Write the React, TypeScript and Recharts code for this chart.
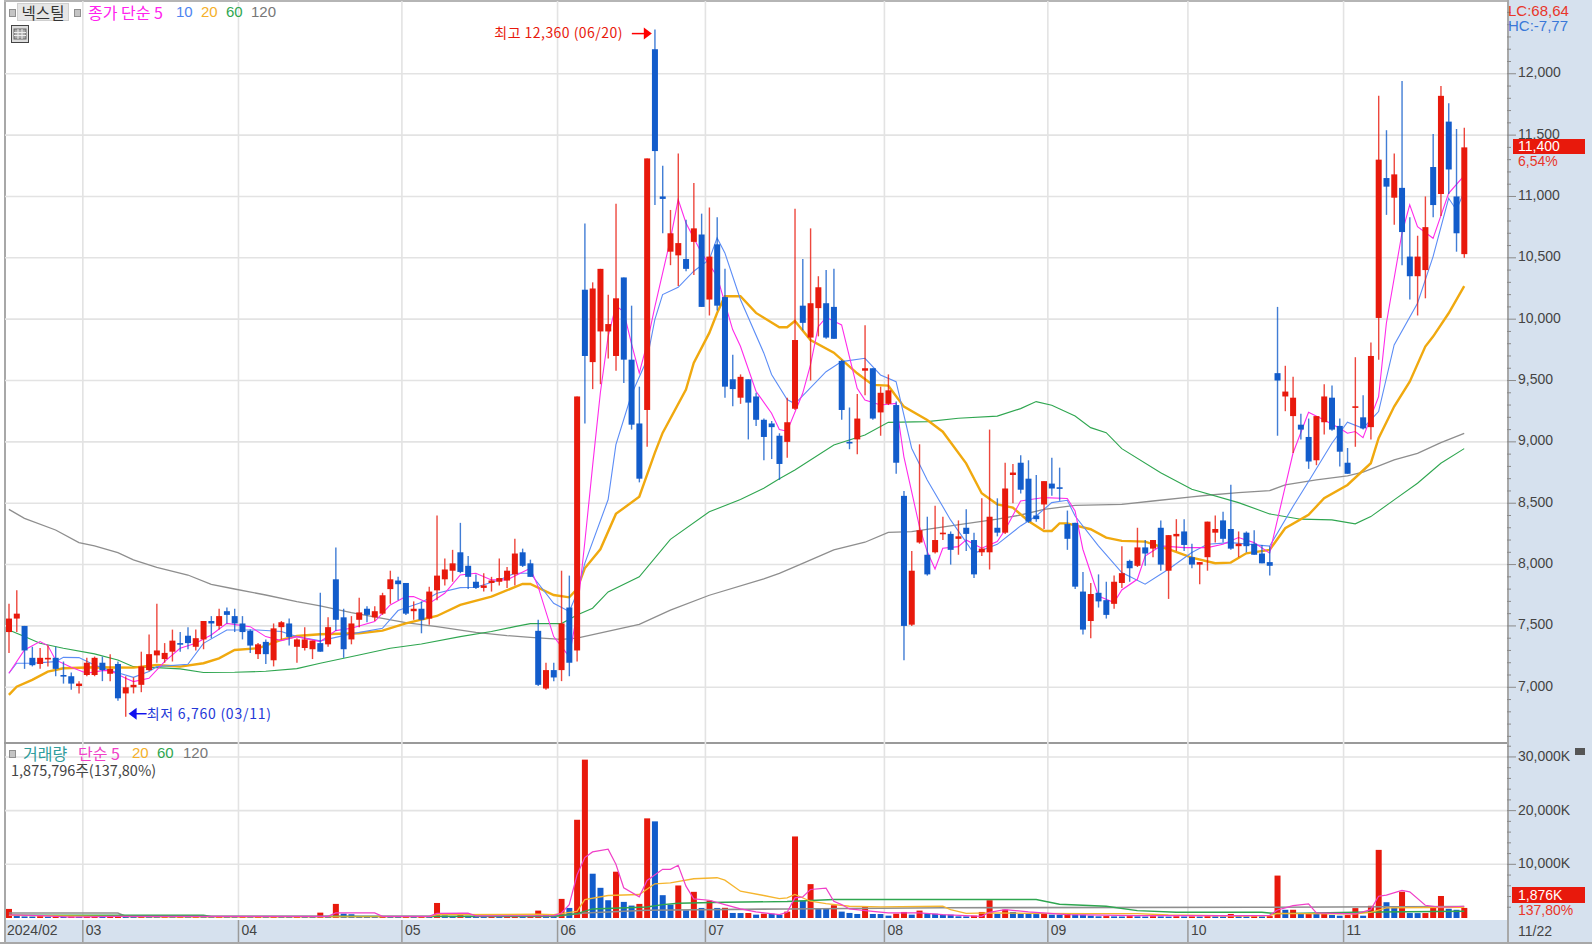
import React from "react";
import {
  Bar,
  CartesianGrid,
  ComposedChart,
  Line,
  ReferenceDot,
  ReferenceLine,
  XAxis,
  YAxis,
} from "recharts";

const opens = [
  7450, 7560, 7500, 7240, 7190, 7230, 7240, 7100, 7090, 7010,
  7100, 7100, 7200, 7110, 7190, 6950, 7000, 7020, 7140, 7260,
  7230, 7290, 7360, 7420, 7330, 7390, 7540, 7500, 7620, 7580,
  7520, 7460, 7270, 7370, 7220, 7490, 7520, 7330, 7320, 7310,
  7360, 7350, 7880, 7570, 7390, 7550, 7640, 7570, 7600, 7800,
  7870, 7850, 7620, 7640, 7560, 7790, 7880, 7950, 8100, 7990,
  7860, 7810, 7850, 7860, 7870, 7920, 8100, 8010, 7460, 6990,
  7140, 7140, 7650, 7300, 10240, 9650, 9900, 9900, 9700, 10340,
  9670, 9150, 9260, 12200, 11000, 10550, 10520, 10490, 10630, 10690,
  10160, 10610, 10180, 9510, 9360, 9510, 9370, 9180, 9150, 9050,
  9000, 9270, 10110, 9850, 10090, 10130, 10100, 9660, 9000, 9020,
  9580, 9600, 9240, 9310, 9300, 8560, 7510, 8180, 8080, 8100,
  8250, 8250, 8210, 8300, 8200, 8100, 8100, 8300, 8260, 8730,
  8830, 8700, 8400, 8490, 8660, 8630, 8330, 8340, 7780, 7540,
  7770, 7710, 7680, 7850, 8030, 7990, 8140, 8130, 8300, 7950,
  8230, 8270, 8060, 8000, 8060, 8260, 8360, 8290, 8150, 8260,
  8170, 8090, 8020, 9560, 9370, 9210, 9140, 9040, 8850, 9160,
  9360, 9130, 8830, 9280, 9200, 9120, 10010, 11150, 10990, 11070,
  10510, 10350, 10400, 11240, 11020, 11610, 11000, 10530,
];
const highs = [
  7680, 7790, 7500, 7330, 7320, 7340, 7330, 7210, 7120, 7050,
  7240, 7250, 7250, 7270, 7210, 7090, 7080, 7290, 7430, 7680,
  7360, 7470, 7450, 7490, 7470, 7540, 7580, 7640, 7650, 7640,
  7580, 7470, 7360, 7390, 7520, 7540, 7560, 7400, 7490, 7380,
  7770, 7570, 8140, 7640, 7580, 7730, 7660, 7660, 7770, 7950,
  7900, 7850, 7700, 7700, 7820, 8400, 8050, 8120, 8340, 8070,
  7920, 7930, 7900, 8050, 7980, 8210, 8130, 8040, 7550, 7200,
  7200, 7950, 7910, 9370, 10780, 10300, 10410, 10200, 10940, 10340,
  10110, 9450, 11310, 12360, 11250, 10890, 11350, 10810, 11110, 10860,
  10910, 10830, 10410, 9710, 9550, 9510, 9400, 9190, 9170, 9070,
  9360, 10900, 10490, 10740, 10350, 10400, 10410, 9670, 9280, 9390,
  9950, 9600, 9450, 9550, 9330, 8600, 8110, 8980, 8390, 8480,
  8390, 8270, 8360, 8450, 8260, 8540, 9100, 8540, 8830, 8820,
  8890, 8850, 8730, 8680, 8870, 8790, 8440, 8340, 7940, 7850,
  7920, 7860, 7910, 8150, 8040, 8300, 8200, 8200, 8360, 8240,
  8370, 8370, 8170, 8020, 8350, 8400, 8430, 8650, 8270, 8270,
  8280, 8160, 8150, 10100, 9620, 9530, 9230, 9190, 9210, 9470,
  9460, 9190, 8950, 9690, 9380, 9810, 11820, 11540, 11350, 11940,
  10830, 10680, 11000, 11510, 11900, 11760, 11550, 11560,
];
const lows = [
  7280, 7450, 7150, 7170, 7150, 7170, 7090, 7030, 6980, 6950,
  7090, 7090, 7050, 7050, 6890, 6760, 6950, 6960, 7130, 7200,
  7200, 7210, 7290, 7310, 7300, 7310, 7400, 7470, 7520, 7450,
  7390, 7280, 7230, 7190, 7170, 7390, 7340, 7200, 7300, 7230,
  7290, 7330, 7460, 7240, 7350, 7490, 7530, 7540, 7590, 7680,
  7710, 7590, 7550, 7440, 7510, 7710, 7830, 7860, 7930, 7800,
  7800, 7780, 7780, 7830, 7810, 7830, 7980, 7900, 7010, 6980,
  7050, 7050, 7090, 7210, 9150, 9430, 9470, 9680, 9580, 9480,
  9100, 8670, 8960, 10930, 10700, 10440, 10270, 10390, 10360, 10100,
  10030, 10070, 9360, 9290, 9310, 9020, 9130, 8850, 8860, 8690,
  8870, 9260, 9910, 9500, 9860, 9840, 9840, 9180, 8940, 8900,
  9380, 9180, 9050, 9300, 8740, 7220, 7500, 8170, 7910, 8090,
  8200, 8000, 8080, 8110, 7890, 8070, 7960, 8230, 8250, 8500,
  8580, 8340, 8350, 8290, 8560, 8520, 8120, 7800, 7430, 7400,
  7650, 7560, 7640, 7810, 7860, 7980, 7990, 8060, 7950, 7720,
  8110, 8110, 7970, 7840, 7950, 8180, 8180, 8120, 8060, 8100,
  8080, 8010, 7910, 9050, 9250, 8910, 9020, 8780, 8810, 9060,
  9090, 8800, 8740, 8960, 9100, 9020, 9670, 10850, 10770, 10440,
  10160, 10030, 10170, 10830, 10840, 11020, 10550, 10500,
];
const closes = [
  7560, 7600, 7300, 7180, 7240, 7240, 7150, 7090, 7030, 7030,
  7200, 7240, 7140, 7150, 6910, 7000, 7020, 7170, 7270, 7300,
  7280, 7380, 7350, 7360, 7400, 7540, 7520, 7580, 7590, 7520,
  7450, 7340, 7350, 7270, 7480, 7530, 7410, 7390, 7390, 7380,
  7290, 7490, 7550, 7310, 7520, 7610, 7590, 7620, 7750, 7880,
  7840, 7600, 7640, 7550, 7780, 7910, 7960, 8010, 7940, 7900,
  7810, 7830, 7870, 7890, 7950, 8090, 7990, 7900, 7020, 7140,
  7080, 7520, 7200, 9370, 9700, 10250, 10410, 9960, 10170, 9670,
  9140, 8700, 11310, 11370, 10980, 10700, 10620, 10410, 10740, 10100,
  10510, 10110, 9450, 9430, 9530, 9320, 9180, 9040, 9120, 8820,
  9160, 9830, 9970, 10130, 10260, 9850, 9840, 9260, 8990, 9190,
  9600, 9190, 9400, 9420, 8830, 7500, 7950, 8280, 7920, 8200,
  8260, 8120, 8230, 8250, 7920, 8130, 8390, 8260, 8620, 8750,
  8610, 8350, 8370, 8680, 8620, 8620, 8210, 7820, 7470, 7760,
  7700, 7590, 7860, 7930, 7970, 8140, 8090, 8200, 8000, 8240,
  8250, 8160, 8000, 8020, 8350, 8290, 8210, 8130, 8170, 8150,
  8080, 8010, 7990, 9500, 9410, 9360, 9100, 8840, 9210, 9370,
  9100, 8920, 8740, 9290, 9110, 9700, 11300, 11080, 11180, 10710,
  10350, 10510, 10750, 10930, 11820, 11220, 10700, 11400,
];
// thousand shares
const volumes = [
  1690, 500, 300, 280, 350, 250, 270, 240, 300, 240,
  280, 330, 250, 320, 450, 400, 300, 380, 320, 260,
  300, 260, 310, 280, 330, 300, 270, 320, 290, 250,
  280, 240, 300, 260, 320, 280, 250, 300, 270, 240,
  1000, 400, 2625, 810, 700, 350, 300, 260, 320, 280,
  240, 300, 260, 310, 280, 2800, 500, 300, 940, 420,
  300, 280, 320, 260, 300, 340, 280, 310, 1375, 625,
  440, 3560, 1875, 18300, 29500, 8250, 5625, 3310, 8625, 3000,
  2310, 2625, 18560, 18000, 4250, 2500, 6060, 1440, 4875, 1875,
  3250, 1875, 1900, 940, 920, 930, 625, 810, 800, 620,
  1190, 15190, 3250, 6310, 1690, 1680, 2375, 1190, 940, 750,
  2190, 750, 740, 440, 810, 1125, 625, 1375, 810, 800,
  625, 620, 310, 300, 440, 1125, 3310, 750, 1560, 1125,
  750, 740, 730, 810, 625, 620, 750, 625, 610, 440,
  310, 350, 300, 280, 340, 300, 270, 330, 290, 260,
  320, 280, 300, 270, 340, 300, 280, 750, 350, 300,
  320, 290, 350, 7900, 1530, 1530, 800, 810, 800, 810,
  550, 430, 550, 1840, 430, 2270, 12690, 2940, 1960, 4900,
  920, 910, 920, 1960, 4100, 1720, 1530, 1876,
];

// [candle index, value] read at the bends of each average
const ma5Points = [
  [0, 7114], [2, 7304], [4, 7372], [5, 7340], [6, 7223], [8, 7163], [10, 7114], [12, 7136], [13, 7136], [15, 7073],
  [16, 7046], [18, 7073], [20, 7209], [22, 7318], [24, 7358], [26, 7426], [28, 7521], [31, 7494], [33, 7413], [35, 7380],
  [37, 7413], [40, 7372], [42, 7462], [44, 7481], [47, 7535], [49, 7671], [51, 7739], [52, 7739], [54, 7684], [56, 7766],
  [58, 7915], [60, 7929], [62, 7875], [64, 7875], [67, 7970], [68, 7820], [70, 7413], [72, 7250], [73, 7600], [74, 8180],
  [75, 8800], [76, 9400], [77, 9860], [78, 10110], [79, 10060], [80, 9800], [81, 9560], [82, 9800], [83, 10100], [85, 10650],
  [86, 10975], [87, 10784], [89, 10540], [91, 10350], [93, 9915], [94, 9779], [96, 9413], [98, 9233], [99, 9100], [100, 9087],
  [102, 9396], [103, 9627], [104, 9939], [105, 10015], [107, 9953], [108, 9694], [109, 9436], [110, 9341], [112, 9301], [114, 9314],
  [115, 8880], [117, 8309], [118, 8106], [119, 7964], [120, 8133], [122, 8146], [123, 8201], [125, 8133], [127, 8187], [128, 8282],
  [130, 8518], [133, 8546], [136, 8538], [137, 8437], [138, 8125], [140, 7744], [142, 7690], [143, 7793], [145, 7880], [146, 8070],
  [148, 8152], [151, 8138], [154, 8138], [156, 8165], [158, 8220], [160, 8179], [162, 8093], [164, 8636], [165, 8907], [167, 9241],
  [169, 9179], [171, 9111], [172, 9070], [173, 9084], [174, 9035], [176, 9369], [177, 9967], [179, 10700], [180, 10931], [181, 10754],
  [183, 10659], [185, 11026], [187, 11170],
];
const ma10Points = [
  [0, 7114], [1, 7196], [3, 7196], [6, 7209], [7, 7244], [9, 7242], [11, 7182], [13, 7136], [16, 7081], [18, 7128],
  [19, 7168], [23, 7187], [25, 7358], [28, 7467], [32, 7467], [35, 7454], [37, 7413], [40, 7378], [44, 7435], [48, 7481],
  [50, 7625], [53, 7690], [55, 7766], [58, 7812], [60, 7815], [63, 7875], [65, 7929], [67, 7929], [70, 7684], [72, 7617],
  [73, 7766], [74, 8010], [77, 8530], [78, 8978], [80, 9386], [82, 9671], [83, 9997], [84, 10200], [86, 10260], [88, 10391],
  [90, 10486], [91, 10662], [92, 10540], [94, 10160], [97, 9725], [98, 9549], [100, 9345], [101, 9310], [105, 9572], [107, 9654],
  [110, 9681], [112, 9545], [114, 9491], [116, 8948], [118, 8690], [121, 8364], [124, 8092], [127, 8165], [130, 8315], [132, 8396],
  [134, 8505], [136, 8524], [137, 8396], [140, 8152], [143, 7935], [146, 7840], [149, 7962], [152, 8098], [154, 8165], [157, 8179],
  [162, 8150], [165, 8473], [167, 8677], [170, 8989], [172, 9160], [174, 9111], [176, 9247], [178, 9790], [181, 10130], [183, 10510],
  [185, 10985], [186, 10890], [187, 11040],
];
const ma20Points = [
  [0, 6938], [1, 7005], [3, 7060], [5, 7128], [7, 7155], [11, 7163], [16, 7160], [19, 7182], [22, 7168], [25, 7196],
  [27, 7236], [29, 7304], [32, 7318], [35, 7386], [37, 7418], [40, 7432], [45, 7440], [48, 7462], [51, 7521], [55, 7581],
  [58, 7671], [62, 7739], [66, 7842], [67, 7842], [70, 7752], [72, 7733], [73, 7800], [74, 7970], [76, 8124], [78, 8413],
  [81, 8553], [83, 8910], [84, 9073], [87, 9426], [88, 9644], [90, 9888], [91, 10050], [92, 10187], [94, 10187], [96, 10051],
  [99, 9934], [100, 9934], [101, 9985], [103, 9830], [106, 9727], [109, 9559], [111, 9464], [113, 9458], [115, 9287], [118, 9178],
  [120, 9083], [123, 8825], [125, 8581], [127, 8491], [129, 8464], [131, 8355], [133, 8274], [134, 8274], [135, 8336], [136, 8336],
  [139, 8288], [141, 8220], [143, 8193], [146, 8187], [149, 8125], [152, 8057], [155, 8011], [157, 8016], [159, 8092], [162, 8120],
  [164, 8296], [167, 8405], [169, 8541], [172, 8649], [175, 8826], [176, 9030], [178, 9288], [180, 9491], [182, 9777], [183, 9858],
  [185, 10048], [187, 10270],
];
const ma60Points = [
  [0, 7467], [2, 7413], [4, 7358], [7, 7318], [11, 7272], [14, 7223], [16, 7168], [19, 7160], [22, 7150], [25, 7120],
  [29, 7122], [33, 7130], [37, 7152], [40, 7196], [45, 7263], [49, 7318], [53, 7353], [58, 7413], [62, 7454], [65, 7494],
  [67, 7519], [71, 7519], [73, 7589], [75, 7644], [77, 7777], [81, 7900], [85, 8206], [90, 8430], [94, 8530], [97, 8622],
  [99, 8699], [101, 8771], [106, 8975], [110, 9056], [113, 9159], [118, 9165], [122, 9192], [127, 9210], [130, 9271], [132, 9328],
  [134, 9298], [137, 9211], [139, 9116], [141, 9075], [143, 8945], [148, 8749], [152, 8614], [158, 8505], [162, 8413], [166, 8370],
  [170, 8364], [173, 8332], [175, 8391], [178, 8527], [181, 8663], [184, 8826], [187, 8945],
];
const ma120Points = [
  [0, 8450], [2, 8377], [6, 8282], [9, 8179], [11, 8152], [14, 8097], [16, 8038], [19, 7978], [23, 7915], [26, 7839],
  [29, 7801], [33, 7752], [37, 7698], [40, 7663], [44, 7608], [48, 7562], [51, 7527], [55, 7494], [60, 7448], [64, 7421],
  [67, 7407], [71, 7391], [73, 7400], [81, 7512], [85, 7628], [90, 7750], [97, 7883], [99, 7929], [102, 8010], [106, 8119],
  [110, 8182], [113, 8263], [116, 8269], [121, 8315], [127, 8370], [130, 8404], [133, 8450], [137, 8483], [143, 8491], [147, 8518],
  [152, 8551], [154, 8565], [158, 8587], [162, 8603], [164, 8649], [168, 8690], [172, 8723], [174, 8753], [178, 8853], [181, 8907],
  [184, 8994], [187, 9070],
];
const vma5Points = [
  [0, 600], [4, 450], [8, 150], [14, 300], [30, 300], [41, 300], [42, 950], [47, 950], [48, 300], [54, 300],
  [55, 850], [59, 900], [60, 400], [70, 440], [71, 940], [72, 2500], [73, 8000], [74, 11250], [75, 12310], [77, 12810],
  [78, 10000], [79, 5625], [81, 3940], [82, 7000], [84, 9060], [85, 9060], [86, 9810], [87, 5940], [88, 3560], [90, 3310],
  [92, 2500], [94, 1690], [96, 1125], [99, 625], [100, 1060], [101, 3750], [102, 3940], [103, 5310], [105, 5560], [106, 3125],
  [107, 2500], [108, 1690], [111, 1250], [113, 940], [117, 940], [120, 625], [125, 310], [126, 1060], [128, 1560], [131, 1125],
  [136, 625], [145, 440], [157, 440], [162, 500], [163, 1500], [164, 1875], [165, 2310], [167, 2625], [168, 940], [173, 750],
  [175, 1560], [176, 4060], [177, 4250], [179, 5125], [180, 4875], [182, 2375], [184, 2000], [187, 2190],
];
const vma20Points = [
  [0, 500], [20, 200], [54, 250], [55, 640], [68, 700], [70, 625], [73, 1250], [74, 3440], [77, 4190], [81, 4375],
  [83, 6375], [85, 6560], [88, 7310], [91, 7500], [92, 7060], [94, 5000], [97, 4190], [99, 3625], [100, 3750], [101, 4375],
  [103, 3125], [105, 2690], [108, 2190], [112, 2060], [120, 2190], [121, 1560], [123, 875], [126, 940], [131, 875], [139, 810],
  [145, 810], [149, 560], [158, 375], [162, 440], [163, 875], [170, 750], [173, 750], [175, 1060], [177, 1875], [187, 2000],
];
const vma60Points = [
  [0, 500], [25, 500], [26, 310], [70, 310], [73, 810], [75, 1690], [82, 2060], [84, 2500], [86, 2750], [92, 2940],
  [100, 3060], [106, 3440], [132, 3440], [135, 2560], [141, 2190], [145, 1375], [150, 1060], [161, 1060], [163, 810], [173, 1060],
  [176, 1125], [187, 1250],
];
const vma120Points = [
  [0, 940], [14, 940], [15, 310], [70, 310], [74, 940], [82, 1440], [100, 1690], [120, 1900], [160, 2000], [187, 2130],
];

const monthStarts = [0, 10, 30, 51, 71, 90, 113, 134, 152, 172];
const monthLabels = ["2024/02", "03", "04", "05", "06", "07", "08", "09", "10", "11"];
const priceLabelTicks = [7000, 7500, 8000, 8500, 9000, 9500, 10000, 10500, 11000, 11500, 12000];
const volumeLabelTicks = [10000, 20000, 30000];

const SLOT_COUNT = 193; // 188 sessions plus the empty room at the right edge
const PLOT_RIGHT = 85;
const SLOT = 1502 / SLOT_COUNT;
const RED = "#E8190C";
const BLUE = "#125CCB";
const PINK = "#FF2BEA";
const MA_BLUE = "#5C8DF6";
const ORANGE = "#F0A90F";
const GREEN = "#2FA650";
const GRAY = "#8E8E8E";
const GRID = "#E3E3E3";
const PANEL = "#D6E1EE";
const LABEL_FONT = "'Liberation Sans', sans-serif";
const KR_FONT = "'Noto Sans CJK KR', sans-serif";

const lookup = (points: number[][]) => new Map(points.map(([i, v]) => [i, v]));
const ma5 = lookup(ma5Points);
const ma10 = lookup(ma10Points);
const ma20 = lookup(ma20Points);
const ma60 = lookup(ma60Points);
const ma120 = lookup(ma120Points);
const vma5 = lookup(vma5Points);
const vma20 = lookup(vma20Points);
const vma60 = lookup(vma60Points);
const vma120 = lookup(vma120Points);

const rows = Array.from({ length: SLOT_COUNT }, (_, i) => ({
  i,
  open: opens[i],
  high: highs[i],
  low: lows[i],
  close: closes[i],
  volume: volumes[i],
  volumeUp: i === 0 || volumes[i] >= volumes[i - 1],
  ma5: ma5.get(i) ?? null,
  ma10: ma10.get(i) ?? null,
  ma20: ma20.get(i) ?? null,
  ma60: ma60.get(i) ?? null,
  ma120: ma120.get(i) ?? null,
  vma5: vma5.get(i) ?? null,
  vma20: vma20.get(i) ?? null,
  vma60: vma60.get(i) ?? null,
  vma120: vma120.get(i) ?? null,
}));

const priceAxisTicks = Array.from({ length: 60 }, (_, k) => 6600 + k * 100);
const volumeAxisTicks = Array.from({ length: 16 }, (_, k) => 2000 + k * 2000);

function Candle(props: any) {
  const { x, y, width, height, payload } = props;
  if (payload.high == null) return null;
  const up = payload.close >= payload.open;
  const color = up ? RED : BLUE;
  const span = payload.high - payload.low;
  const toY = (v: number) => y + ((payload.high - v) / span) * Math.abs(height);
  const top = toY(Math.max(payload.open, payload.close));
  const bottom = toY(Math.min(payload.open, payload.close));
  const mid = x + width / 2;
  return (
    <g>
      <line x1={mid} x2={mid} y1={y} y2={y + Math.abs(height)} stroke={color} strokeOpacity={0.8} strokeWidth={1.4} />
      <rect x={x} y={top} width={width} height={Math.max(bottom - top, 1.6)} fill={color} />
    </g>
  );
}

function VolumeBar(props: any) {
  const { x, y, width, height, payload } = props;
  if (payload.volume == null) return null;
  return <rect x={x} y={y} width={width} height={height} fill={payload.volumeUp ? RED : BLUE} />;
}

function PriceTick(props: any) {
  const { y, payload } = props;
  const major = priceLabelTicks.includes(payload.value);
  const left = 1507;
  return (
    <g>
      <line x1={left} x2={left + (major ? 9 : 4)} y1={y} y2={y} stroke="#8a8a8a" strokeWidth={1} />
      {major && (
        <text x={left + 11} y={y + 3.5} fontFamily={LABEL_FONT} fontSize={14} fill="#444">
          {payload.value.toLocaleString("en-US")}
        </text>
      )}
    </g>
  );
}

function VolumeTick(props: any) {
  const { y, payload } = props;
  const major = volumeLabelTicks.includes(payload.value);
  const left = 1507;
  return (
    <g>
      <line x1={left} x2={left + (major ? 9 : 4)} y1={y} y2={y} stroke="#8a8a8a" strokeWidth={1} />
      {major && (
        <text x={left + 11} y={y + 4} fontFamily={LABEL_FONT} fontSize={14} fill="#444">
          {`${payload.value.toLocaleString("en-US")}K`}
        </text>
      )}
    </g>
  );
}

function DateTick(props: any) {
  const { x, payload } = props;
  const at = monthStarts.indexOf(payload.value);
  const left = x - SLOT / 2;
  return (
    <g>
      {at > 0 && <line x1={left} x2={left} y1={178} y2={200} stroke="#9a9a9a" strokeWidth={1.5} />}
      <text x={left + (at > 0 ? 3 : 2)} y={193} fontFamily={LABEL_FONT} fontSize={14} fill="#444">
        {monthLabels[at]}
      </text>
    </g>
  );
}

function MonthLine(props: any) {
  const { x1, x2, y1, y2 } = props;
  return <line x1={x1 - SLOT / 2} x2={x2 - SLOT / 2} y1={y1} y2={y2} stroke={GRID} strokeWidth={1.6} />;
}

function HighMark(props: any) {
  const { cx, cy } = props;
  return (
    <g>
      <text x={cx - 32} y={cy + 8} textAnchor="end" fontFamily={KR_FONT} fontSize={14} letterSpacing={0.45} fill={RED}>
        최고 12,360 (06/20)
      </text>
      <line x1={cx - 23} x2={cx - 10} y1={cy + 4} y2={cy + 4} stroke="#F00" strokeWidth={1.5} />
      <path d={`M${cx - 11} ${cy - 2} L${cx - 3} ${cy + 4} L${cx - 11} ${cy + 10} Z`} fill="#F00" />
    </g>
  );
}

function LowMark(props: any) {
  const { cx, cy } = props;
  return (
    <g>
      <path d={`M${cx + 3} ${cy - 3} L${cx + 11} ${cy - 9} L${cx + 11} ${cy + 3} Z`} fill="#1010EE" />
      <line x1={cx + 10} x2={cx + 21} y1={cy - 3} y2={cy - 3} stroke="#1010EE" strokeWidth={1.5} />
      <text x={cx + 21} y={cy + 2} fontFamily={KR_FONT} fontSize={14} letterSpacing={0.75} fill="#2338D8">
        최저 6,760 (03/11)
      </text>
    </g>
  );
}

function Label(props: { x: number; y: number; color: string; size?: number; children: React.ReactNode; font?: string }) {
  return (
    <div
      style={{
        position: "absolute",
        left: props.x,
        top: props.y,
        color: props.color,
        fontFamily: props.font ?? LABEL_FONT,
        fontSize: props.size ?? 14,
        lineHeight: "16px",
        whiteSpace: "nowrap",
      }}
    >
      {props.children}
    </div>
  );
}

function Square({ x, y }: { x: number; y: number }) {
  return (
    <div
      style={{ position: "absolute", left: x, top: y, width: 5, height: 6, background: "#c4c4c4", border: "1px solid #8f8f8f" }}
    />
  );
}

export default function App() {
  return (
    <div style={{ position: "fixed", left: 0, top: 0, width: 1592, height: 946, background: "#fff", overflow: "hidden" }}>
      {/* axis panel and date strip */}
      <div style={{ position: "absolute", left: 1507, top: 0, width: 85, height: 942, background: PANEL, borderLeft: "2px solid #a8a8a8", boxSizing: "border-box" }} />
      <div style={{ position: "absolute", left: 5, top: 920, width: 1502, height: 22, background: PANEL }} />
      <div style={{ position: "absolute", left: 0, top: 942, width: 1592, height: 1.5, background: "#a8a8a8" }} />
      <div style={{ position: "absolute", left: 4, top: 0, width: 1.5, height: 942, background: "#a8a8a8" }} />
      <div style={{ position: "absolute", left: 4, top: 0, width: 1503, height: 1.5, background: "#b5b5b5" }} />
      <div style={{ position: "absolute", left: 4, top: 742, width: 1503, height: 1.5, background: "#9a9a9a" }} />

      <div style={{ position: "absolute", left: 0, top: 0 }}>
        <ComposedChart
          width={1592}
          height={742}
          data={rows}
          margin={{ top: 1, right: 0, bottom: 0, left: 5 }}
          barCategoryGap={0}
        >
          <CartesianGrid stroke={GRID} strokeWidth={1.6} vertical={false} horizontalValues={priceLabelTicks} />
          <XAxis dataKey="i" type="category" hide />
          <YAxis
            orientation="right"
            width={PLOT_RIGHT}
            domain={[6554, 12593]}
            ticks={priceAxisTicks}
            interval={0}
            allowDataOverflow
            axisLine={false}
            tickLine={false}
            tick={<PriceTick />}
          />
          {monthStarts.slice(1).map((m) => (
            <ReferenceLine key={m} x={m} shape={<MonthLine />} />
          ))}
          <Line dataKey="ma120" stroke={GRAY} strokeWidth={1.3} dot={false} connectNulls isAnimationActive={false} />
          <Line dataKey="ma60" stroke={GREEN} strokeWidth={1.1} dot={false} connectNulls isAnimationActive={false} />
          <Line dataKey="ma20" stroke={ORANGE} strokeWidth={2.4} dot={false} connectNulls isAnimationActive={false} />
          <Line dataKey="ma10" stroke={MA_BLUE} strokeWidth={1.1} dot={false} connectNulls isAnimationActive={false} />
          <Line dataKey="ma5" stroke={PINK} strokeWidth={1.1} dot={false} connectNulls isAnimationActive={false} />
          <Bar
            dataKey={(d: any) => (d.high == null ? null : [d.low, d.high])}
            barSize={6}
            shape={<Candle />}
            isAnimationActive={false}
            {...({ zIndex: 500 } as any)}
          />
          <ReferenceDot x={83} y={12360} r={0} shape={<HighMark />} />
          <ReferenceDot x={15} y={6760} r={0} shape={<LowMark />} />
        </ComposedChart>
      </div>

      <div style={{ position: "absolute", left: 0, top: 742 }}>
        <ComposedChart
          width={1592}
          height={204}
          data={rows}
          margin={{ top: 0, right: 0, bottom: 0, left: 5 }}
          barCategoryGap={0}
        >
          <CartesianGrid stroke={GRID} strokeWidth={1.6} vertical={false} horizontalValues={volumeLabelTicks} />
          <XAxis
            dataKey="i"
            type="category"
            height={28}
            ticks={monthStarts}
            interval={0}
            axisLine={false}
            tickLine={false}
            tick={<DateTick />}
          />
          <YAxis
            orientation="right"
            width={PLOT_RIGHT}
            domain={[0, 32785]}
            ticks={volumeAxisTicks}
            interval={0}
            allowDataOverflow
            axisLine={false}
            tickLine={false}
            tick={<VolumeTick />}
          />
          {monthStarts.slice(1).map((m) => (
            <ReferenceLine key={m} x={m} shape={<MonthLine />} />
          ))}
          <Bar dataKey="volume" barSize={6} shape={<VolumeBar />} isAnimationActive={false} />
          <Line dataKey="vma120" stroke={GRAY} strokeWidth={1.6} dot={false} connectNulls isAnimationActive={false} />
          <Line dataKey="vma60" stroke={GREEN} strokeWidth={1.4} dot={false} connectNulls isAnimationActive={false} />
          <Line dataKey="vma20" stroke="#F5B52E" strokeWidth={1.3} dot={false} connectNulls isAnimationActive={false} />
          <Line dataKey="vma5" stroke="#F040C8" strokeWidth={1.2} dot={false} connectNulls isAnimationActive={false} />
        </ComposedChart>
      </div>

      {/* price panel legend */}
      <Square x={9} y={9} />
      <div style={{ position: "absolute", left: 17, top: 3, width: 52, height: 18, background: "#e6e6e6", border: "1px solid #cfcfcf", boxSizing: "border-box", textAlign: "center", fontFamily: KR_FONT, fontSize: 15.5, lineHeight: "16px", color: "#333" }}>
        넥스틸
      </div>
      <Square x={74} y={9} />
      <Label x={88} y={4} color="#FF22EE" font={KR_FONT} size={16}>종가 단순 5</Label>
      <Label x={176} y={4} color="#4D84F0" size={15}>10</Label>
      <Label x={201} y={4} color="#F5B02A" size={15}>20</Label>
      <Label x={226} y={4} color="#2FA650" size={15}>60</Label>
      <Label x={251} y={4} color="#777" size={15}>120</Label>
      <svg style={{ position: "absolute", left: 11, top: 25 }} width={18} height={18}>
        <rect x={0.5} y={0.5} width={17} height={17} fill="#ddd" stroke="#444" />
        <rect x={3} y={4} width={12} height={10} fill="#aaa" stroke="#666" />
        <path d="M7 4V14M11 4V14M3 7.5H15M3 10.5H15" stroke="#eee" />
      </svg>

      {/* volume panel legend */}
      <Square x={9} y={750} />
      <Label x={23} y={745} color="#2E9C9C" font={KR_FONT} size={16}>거래량</Label>
      <Label x={78} y={745} color="#F040C8" font={KR_FONT} size={16}>단순 5</Label>
      <Label x={132} y={745} color="#F5B02A" size={15}>20</Label>
      <Label x={157} y={745} color="#2FA650" size={15}>60</Label>
      <Label x={183} y={745} color="#777" size={15}>120</Label>
      <Label x={11} y={762} color="#444" font={KR_FONT} size={14.5}>1,875,796주(137,80%)</Label>
      <div style={{ position: "absolute", left: 1575, top: 748, width: 10, height: 7, background: "#555" }} />

      {/* right side read-outs */}
      <Label x={1508} y={3} color="#E8362A" size={15}>LC:68,64</Label>
      <Label x={1508} y={18} color="#3A78D8" size={15}>HC:-7,77</Label>
      <div style={{ position: "absolute", left: 1513, top: 139, width: 72, height: 15, background: RED, color: "#fff", fontFamily: LABEL_FONT, fontSize: 14, lineHeight: "15px", paddingLeft: 5, boxSizing: "border-box" }}>
        11,400
      </div>
      <Label x={1518} y={153} color="#E8362A">6,54%</Label>
      <div style={{ position: "absolute", left: 1512, top: 887, width: 73, height: 16, background: RED, color: "#fff", fontFamily: LABEL_FONT, fontSize: 14, lineHeight: "16px", paddingLeft: 6, boxSizing: "border-box" }}>
        1,876K
      </div>
      <Label x={1518} y={902} color="#E8362A">137,80%</Label>
      <Label x={1518} y={923} color="#444">11/22</Label>
    </div>
  );
}
